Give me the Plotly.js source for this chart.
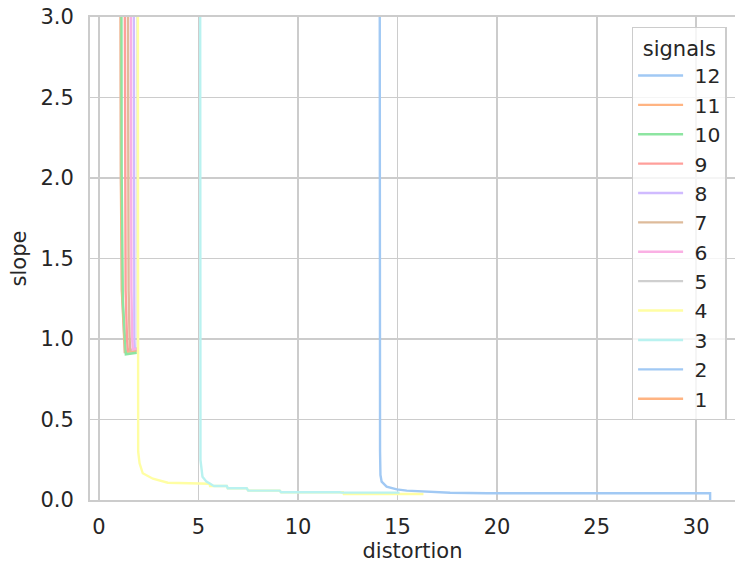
<!DOCTYPE html>
<html>
<head>
<meta charset="utf-8">
<script src="https://cdn.plot.ly/plotly-3.0.1.min.js"></script>
<style>
  html, body { margin: 0; padding: 0; background: #ffffff; }
  #chart { width: 735px; height: 572px; }
</style>
</head>
<body>
<div id="chart"></div>
<script>
// Slope of the rate-distortion curve against distortion, one curve per signal count.
const signalLabels = ['12', '11', '10', '9', '8', '7', '6', '5', '4', '3', '2', '1'];
const palette = ['#a1c9f4', '#ffb482', '#8de5a1', '#ff9f9b', '#d0bbff', '#debb9b',
                 '#fab0e4', '#cfcfcf', '#fffea3', '#b9f2f0', '#a1c9f4', '#ffb482'];

const dist12 = [1.09, 1.10, 1.11, 1.16, 1.25, 1.31, 1.92];
const slope12 = [4.0, 3.0, 2.0, 1.30, 1.00, 0.92, 0.93];

const dist11 = [1.07, 1.08, 1.10, 1.15, 1.24, 1.30, 1.92];
const slope11 = [4.0, 3.0, 2.0, 1.30, 1.00, 0.92, 0.925];

const dist10 = [1.12, 1.13, 1.14, 1.20, 1.30, 1.35, 1.90];
const slope10 = [4.0, 3.0, 2.05, 1.24, 0.99, 0.905, 0.915];

const dist9 = [1.28, 1.29, 1.30, 1.34, 1.41, 1.45, 1.92];
const slope9 = [4.0, 3.0, 2.0, 1.30, 1.00, 0.93, 0.935];

const dist8 = [1.74, 1.745, 1.75, 1.76, 1.78, 1.80, 1.92];
const slope8 = [4.0, 3.0, 2.0, 1.30, 1.00, 0.94, 0.94];

const dist7 = [1.44, 1.45, 1.46, 1.49, 1.54, 1.57, 1.92];
const slope7 = [4.0, 3.0, 2.0, 1.30, 1.00, 0.93, 0.935];

const dist6 = [1.59, 1.60, 1.61, 1.63, 1.67, 1.70, 1.92];
const slope6 = [4.0, 3.0, 2.0, 1.30, 1.00, 0.935, 0.94];

const dist5 = [1.94, 1.945, 1.95, 1.95, 1.95, 1.95];
const slope5 = [4.0, 3.0, 2.0, 1.30, 1.00, 0.92];

const dist4 = [1.95, 1.955, 1.96, 1.965, 1.97, 2.04, 2.20, 2.71, 3.46, 5.55, 5.58, 6.42,
               6.47, 7.42, 7.50, 9.08, 9.15, 12.26, 12.30, 16.30];
const slope4 = [4.0, 3.0, 2.0, 1.0, 0.30, 0.228, 0.166, 0.132, 0.107, 0.101, 0.087, 0.087,
                0.073, 0.073, 0.058, 0.058, 0.048, 0.048, 0.037, 0.037];

const dist3 = [5.08, 5.08, 5.085, 5.09, 5.10, 5.20, 5.40, 5.73, 5.78, 6.42, 6.47, 7.42,
               7.50, 9.08, 9.15, 12.10, 12.20, 15.10];
const slope3 = [4.0, 3.0, 1.0, 0.30, 0.248, 0.145, 0.114, 0.090, 0.087, 0.087, 0.073, 0.073,
                0.058, 0.058, 0.048, 0.048, 0.046, 0.046];

const dist2 = [14.10, 14.10, 14.11, 14.12, 14.14, 14.20, 14.45, 14.96, 15.46, 16.30, 17.64,
               19.50, 30.70, 30.70];
const slope2 = [4.0, 3.0, 1.0, 0.30, 0.155, 0.114, 0.083, 0.066, 0.058, 0.052, 0.045,
                0.042, 0.042, 0.0];

// a single sample: no segment is drawn, but the series keeps its legend entry
const dist1 = [30.70];
const slope1 = [0.0];

const distSeries = [dist12, dist11, dist10, dist9, dist8, dist7, dist6, dist5, dist4, dist3, dist2, dist1];
const slopeSeries = [slope12, slope11, slope10, slope9, slope8, slope7, slope6, slope5, slope4, slope3, slope2, slope1];

const xTicks = [0, 5, 10, 15, 20, 25, 30];
const yTicks = [0.0, 0.5, 1.0, 1.5, 2.0, 2.5, 3.0];

const ink = '#262626';
const fontFamily = 'DejaVu Sans, sans-serif';
const textSize = 21;

const traces = signalLabels.map((label, i) => ({
  type: 'scatter',
  mode: 'lines',
  name: '\u00a0' + label,
  x: distSeries[i],
  y: slopeSeries[i],
  line: { color: palette[i], width: 2.4 },
  hoverinfo: 'skip'
}));

const layout = {
  width: 735,
  height: 572,
  margin: { l: 90, r: 0, t: 17, b: 72 },
  paper_bgcolor: '#ffffff',
  plot_bgcolor: '#ffffff',
  font: { family: fontFamily, color: ink, size: textSize },
  showlegend: true,
  xaxis: {
    range: [-0.45, 31.95],
    tickvals: xTicks,
    ticktext: xTicks.map(String),
    showgrid: true,
    gridcolor: '#cccccc',
    gridwidth: 1.8,
    zeroline: false,
    showline: true,
    mirror: true,
    linecolor: '#cccccc',
    linewidth: 2,
    ticks: '',
    ticklabelstandoff: 7,
    tickfont: { family: fontFamily, size: textSize, color: ink },
    title: { text: 'distortion', font: { family: fontFamily, size: textSize, color: ink }, standoff: 0 }
  },
  yaxis: {
    range: [0, 3],
    tickvals: yTicks,
    ticktext: yTicks.map(v => v.toFixed(1)),
    showgrid: true,
    gridcolor: '#cccccc',
    gridwidth: 1.8,
    zeroline: false,
    showline: true,
    mirror: false,
    linecolor: '#cccccc',
    linewidth: 2,
    ticks: '',
    ticklabelstandoff: 10,
    tickfont: { family: fontFamily, size: textSize, color: ink },
    title: { text: 'slope', font: { family: fontFamily, size: textSize, color: ink }, standoff: 8 }
  },
  legend: {
    x: 0.840,
    y: 0.979,
    xanchor: 'left',
    yanchor: 'top',
    bgcolor: 'rgba(255,255,255,0.8)',
    bordercolor: '#cccccc',
    borderwidth: 1.3,
    traceorder: 'normal',
    itemwidth: 45,
    font: { family: fontFamily, size: 20.3, color: ink },
    title: { text: 'signals', side: 'top center', font: { family: fontFamily, size: textSize, color: ink } }
  }
};

Plotly.newPlot('chart', traces, layout, { staticPlot: true, displayModeBar: false });
</script>
</body>
</html>
